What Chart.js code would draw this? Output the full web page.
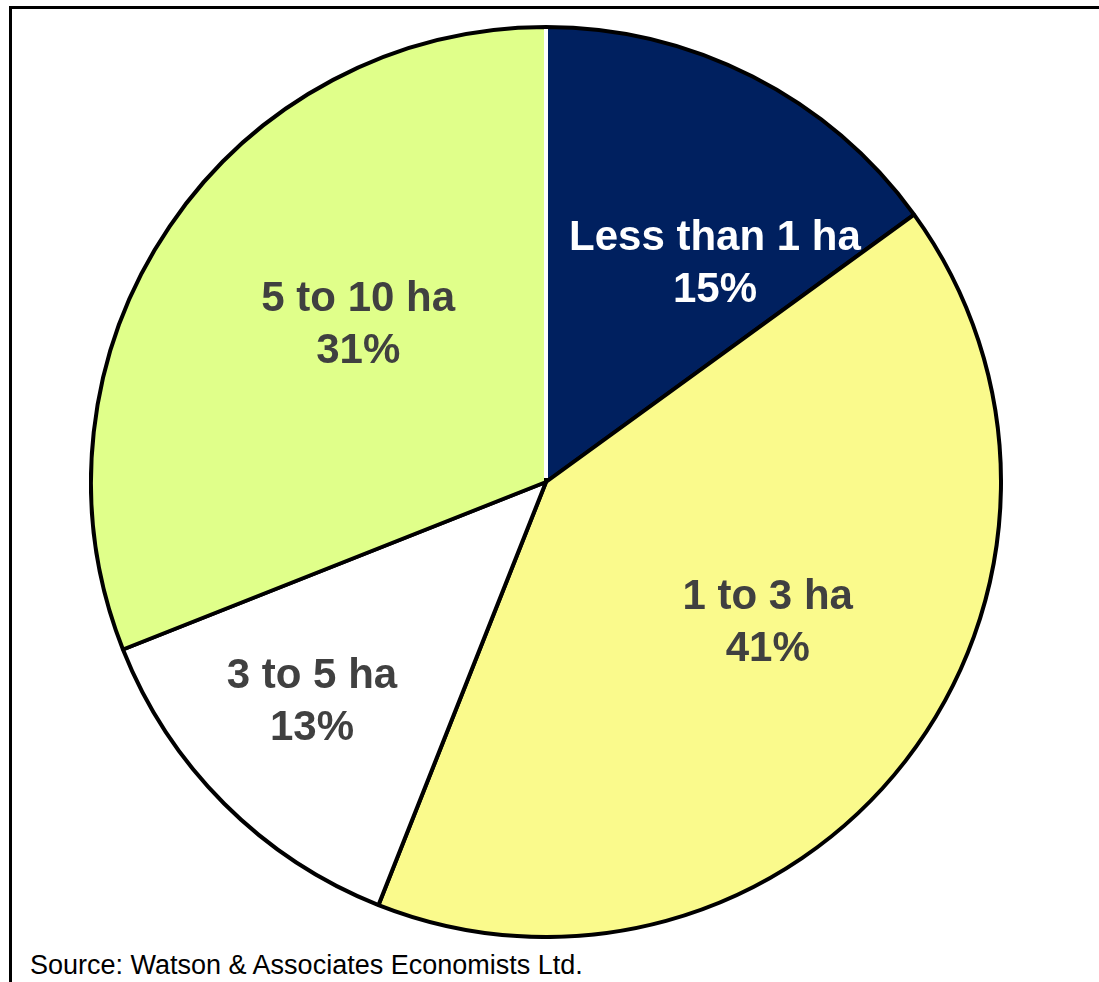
<!DOCTYPE html>
<html>
<head>
<meta charset="utf-8">
<script src="https://cdn.jsdelivr.net/npm/chart.js@4/dist/chart.umd.min.js"></script>
<style>
    html, body { margin: 0; padding: 0; background: #fff; }
    body { width: 1099px; height: 982px; position: relative; overflow: hidden; }
    #frame {
        position: absolute; left: 9px; top: 6px; right: -10px; bottom: -10px;
        border-top: 3px solid #000; border-left: 3px solid #000;
    }
    #pieBox { position: absolute; left: 89px; top: 25px; width: 914px; height: 914px; }
    #source {
        position: absolute; left: 30px; top: 950px;
        font-family: "Liberation Sans", Arial, sans-serif; font-size: 27px; color: #000;
        white-space: nowrap;
    }
</style>
</head>
<body>
<div id="frame"></div>
<div id="pieBox"><canvas id="pieChart"></canvas></div>
<div id="source">Source: Watson &amp; Associates Economists Ltd.</div>

<script>
const sizeClasses = ["Less than 1 ha", "1 to 3 ha", "3 to 5 ha", "5 to 10 ha"];
const shares = [15, 41, 13, 31];
const sliceColors = ["#00205F", "#FAFA8C", "#FFFFFF", "#E0FF8A"];
const labelColors = ["#FFFFFF", "#404040", "#404040", "#404040"];

// nudges for each label block, off the slice's mid-angle point
const labelNudge = [[45, 26], [6, -26], [-41, 27], [38, -3]];

const sliceLabels = {
    id: "sliceLabels",
    afterDatasetsDraw(chart) {
        const ctx = chart.ctx;
        const arcs = chart.getDatasetMeta(0).data;

        // white seam along the first slice's starting edge
        const a0 = arcs[0].getProps(["x", "y", "startAngle", "outerRadius"], true);
        ctx.save();
        ctx.strokeStyle = "#FFFFFF";
        ctx.lineWidth = 4;
        ctx.beginPath();
        ctx.moveTo(a0.x, a0.y - 4);
        ctx.lineTo(a0.x + Math.cos(a0.startAngle) * (a0.outerRadius - 2),
                   a0.y + Math.sin(a0.startAngle) * (a0.outerRadius - 2));
        ctx.stroke();

        ctx.font = "bold 42px 'Liberation Sans', Arial, sans-serif";
        ctx.textAlign = "center";
        ctx.textBaseline = "middle";
        arcs.forEach((arc, i) => {
            const p = arc.getProps(["x", "y", "startAngle", "endAngle", "outerRadius"], true);
            const mid = (p.startAngle + p.endAngle) / 2;
            const cx = p.x + Math.cos(mid) * p.outerRadius * 0.6 + labelNudge[i][0];
            const cy = p.y + Math.sin(mid) * p.outerRadius * 0.6 + labelNudge[i][1];
            ctx.fillStyle = labelColors[i];
            ctx.fillText(sizeClasses[i], cx, cy - 26);
            ctx.fillText(shares[i] + "%", cx, cy + 26);
        });
        ctx.restore();
    }
};

new Chart(document.getElementById("pieChart"), {
    type: "pie",
    data: {
        labels: sizeClasses,
        datasets: [{
            data: shares,
            backgroundColor: sliceColors,
            borderColor: "#000000",
            borderWidth: 4
        }]
    },
    options: {
        responsive: true,
        maintainAspectRatio: false,
        animation: false,
        events: [],
        layout: { padding: 0 },
        plugins: {
            legend: { display: false },
            tooltip: { enabled: false }
        }
    },
    plugins: [sliceLabels]
});
</script>
</body>
</html>
